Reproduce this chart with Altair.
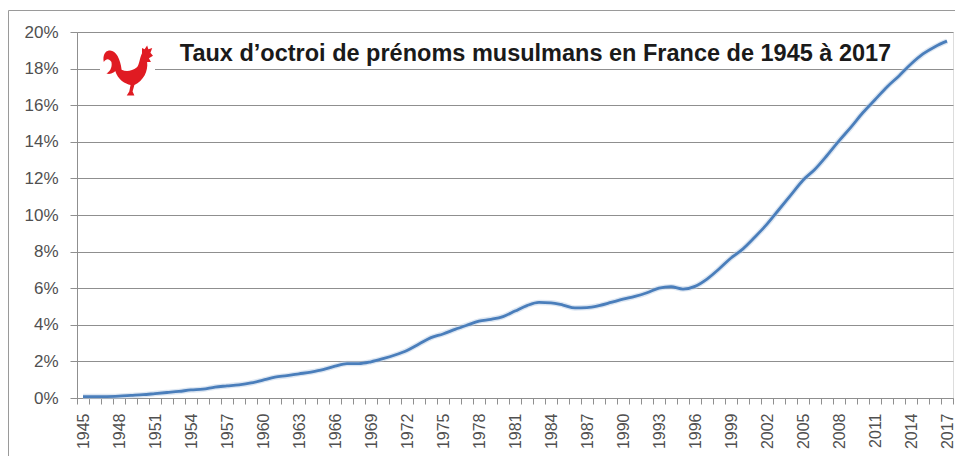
import altair as alt
import pandas as pd

# ---- data ----
years = list(range(1945, 2018))
rates_pct = [
    0.08, 0.08, 0.08, 0.10, 0.14, 0.18, 0.24, 0.30, 0.36, 0.44,   # 1945-1954
    0.48, 0.60, 0.66, 0.72, 0.82, 0.98, 1.14, 1.22, 1.32, 1.42,   # 1955-1964
    1.55, 1.74, 1.88, 1.88, 1.98, 2.15, 2.35, 2.60, 2.95, 3.30,   # 1965-1974
    3.50, 3.75, 3.98, 4.20, 4.30, 4.45, 4.75, 5.05, 5.22, 5.20,   # 1975-1984
    5.08, 4.92, 4.94, 5.05, 5.22, 5.40, 5.55, 5.75, 6.00, 6.08,   # 1985-1994
    5.95, 6.10, 6.50, 7.05, 7.65, 8.15, 8.80, 9.50, 10.30, 11.10, # 1995-2004
    11.90, 12.50, 13.25, 14.05, 14.80, 15.60, 16.30, 17.00, 17.60, 18.25,  # 2005-2014
    18.80, 19.20, 19.50,                                            # 2015-2017
]
y_tick_values = [0, 0.02, 0.04, 0.06, 0.08, 0.10, 0.12, 0.14, 0.16, 0.18, 0.20]
title_text = "Taux d\u2019octroi de prénoms musulmans en France de 1945 à 2017"

df = pd.DataFrame({"year": years, "rate": [r / 100 for r in rates_pct]})
boundaries = [y - 0.5 for y in years] + [years[-1] + 0.5]

W, H = 876, 366
GRID = "#8f8f8f"
LABEL = "#505050"

x_scale = alt.Scale(domain=[years[0] - 0.5, years[-1] + 0.5], nice=False, zero=False)
y_scale = alt.Scale(domain=[0, 0.2], nice=False)

x_axis = alt.Axis(
    values=boundaries,
    labelExpr="(abs((datum.value + 0.5 - 1945) % 3) < 0.01) ? format(datum.value + 0.5, 'd') : ''",
    labelAngle=270,
    labelOffset=6,
    labelFlush=False,
    labelOverlap=False,
    labelBound=False,
    labelPadding=9,
    labelFont="Liberation Sans",
    labelFontSize=16,
    labelColor=LABEL,
    tickSize=6,
    tickColor=GRID,
    domainColor=GRID,
    grid=False,
    title=None,
)
y_axis = alt.Axis(
    values=y_tick_values,
    format=".0%",
    tickSize=7,
    tickColor=GRID,
    domainColor=GRID,
    grid=True,
    gridColor=GRID,
    gridWidth=1,
    labelOverlap=False,
    labelBound=False,
    labelFlush=False,
    labelPadding=12,
    labelFont="Liberation Sans",
    labelFontSize=17,
    labelColor=LABEL,
    title=None,
)

base = alt.Chart(df)

shadow = base.mark_line(color="#b9cde6", strokeWidth=5.5, opacity=0.5, interpolate="monotone").encode(
    x=alt.X("year:Q", scale=x_scale, axis=x_axis),
    y=alt.Y("rate:Q", scale=y_scale, axis=y_axis),
)
line = base.mark_line(color="#4a7ebb", strokeWidth=2.8, interpolate="monotone").encode(
    x=alt.X("year:Q", scale=x_scale, axis=x_axis),
    y=alt.Y("rate:Q", scale=y_scale, axis=y_axis),
)

one = pd.DataFrame({"k": [0]})

border = alt.Chart(one).mark_rect(fill="transparent", stroke="#9a9a9a", strokeWidth=1).encode(
    x=alt.value(-68.5), x2=alt.value(W + 100), y=alt.value(-21.5), y2=alt.value(H + 200)
)

white_box = alt.Chart(one).mark_rect(color="white").encode(
    x=alt.value(23), x2=alt.value(78), y=alt.value(9), y2=alt.value(66)
)

rooster_path = (
    "M -0.25 -0.05 C -0.3 -0.5 -0.5 -0.85 -0.75 -0.8 "
    "C -0.9 -0.78 -1.0 -0.6 -0.95 -0.35 "
    "C -0.85 -0.5 -0.75 -0.5 -0.65 -0.35 "
    "C -0.6 -0.1 -0.75 0.05 -0.85 0.1 "
    "C -0.65 0.15 -0.55 0.05 -0.5 0.0 "
    "C -0.4 0.35 -0.1 0.5 0.1 0.55 "
    "L 0.05 0.8 L -0.05 0.96 L 0.25 0.96 L 0.18 0.8 L 0.25 0.55 "
    "C 0.6 0.4 0.8 0.0 0.75 -0.35 "
    "L 0.9 -0.35 L 0.82 -0.5 L 0.98 -0.6 "
    "L 0.88 -0.72 L 0.95 -0.9 L 0.8 -0.85 L 0.75 -1.0 L 0.65 -0.85 L 0.55 -0.9 L 0.55 -0.7 "
    "C 0.45 -0.5 0.45 -0.25 0.35 -0.15 "
    "C 0.15 0.0 -0.05 0.05 -0.25 -0.05 Z"
)
rooster = alt.Chart(one).mark_point(
    shape=rooster_path, filled=True, color="#e01b22", opacity=1, size=2600, strokeWidth=0
).encode(x=alt.value(51), y=alt.value(39))

title = alt.Chart(pd.DataFrame({"t": [title_text]})).mark_text(
    font="Liberation Sans", fontSize=23.5, fontWeight="bold", color="#1a1a1a",
    align="center", baseline="alphabetic",
).encode(x=alt.value(458.5), y=alt.value(29), text="t:N")

chart = alt.layer(shadow, line, border, white_box, rooster, title).properties(
    width=W,
    height=H,
    autosize=alt.AutoSizeParams(type="none"),
    padding={"left": 69, "top": 24, "right": 2, "bottom": 58},
).configure_view(stroke=None).configure(background="white")

chart.save("out.html", embed_options={"renderer": "svg", "actions": False})
